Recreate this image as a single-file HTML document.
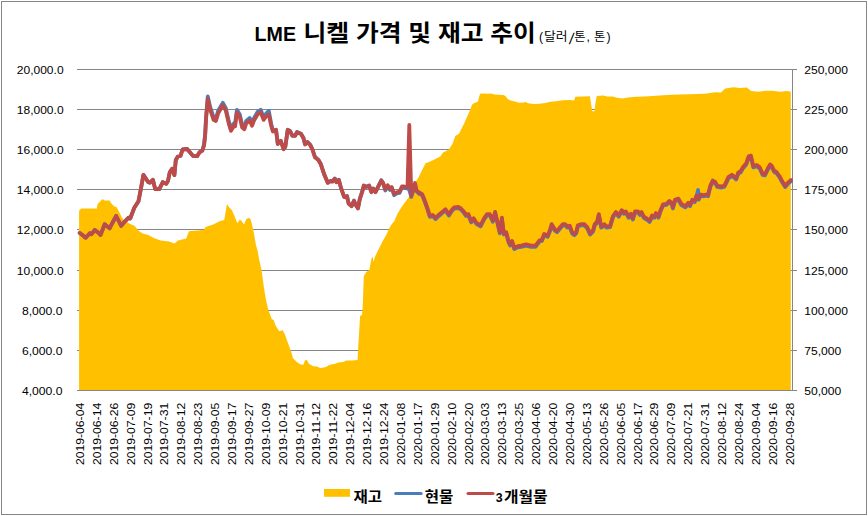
<!DOCTYPE html>
<html lang="ko"><head><meta charset="utf-8"><title>LME 니켈 가격 및 재고 추이</title>
<style>
html,body{margin:0;padding:0;background:#fff;}
body{width:868px;height:516px;overflow:hidden;font-family:"Liberation Sans",sans-serif;}
svg{display:block;}
svg text{font-family:"Liberation Sans",sans-serif;fill:#000;}
svg text.ko{font-family:"Liberation Sans","Noto Sans CJK KR","NanumGothic",sans-serif;}
.ax{font-size:10.9px;}
.xl{font-size:10.5px;}
</style></head><body>
<svg width="868" height="516" viewBox="0 0 868 516">
<rect x="0" y="0" width="868" height="516" fill="#fff"/>
<rect x="1.5" y="1.5" width="865" height="513" fill="#fff" stroke="#868686" stroke-width="1"/>
<g stroke="#868686" stroke-width="1" fill="none" shape-rendering="crispEdges">
<line x1="77.0" y1="69.5" x2="792.5" y2="69.5"/>
<line x1="77.0" y1="109.5" x2="792.5" y2="109.5"/>
<line x1="77.0" y1="149.5" x2="792.5" y2="149.5"/>
<line x1="77.0" y1="189.5" x2="792.5" y2="189.5"/>
<line x1="77.0" y1="229.5" x2="792.5" y2="229.5"/>
<line x1="77.0" y1="270.5" x2="792.5" y2="270.5"/>
<line x1="77.0" y1="310.5" x2="792.5" y2="310.5"/>
<line x1="77.0" y1="350.5" x2="792.5" y2="350.5"/>
<line x1="77.0" y1="390.5" x2="792.5" y2="390.5"/>
</g>
<path d="M79.1,390.5 L79.1,210.7 L81.2,208.4 L95.7,208.4 L96.5,209.0 L97.8,203.8 L102.6,199.0 L104.7,200.4 L109.6,200.4 L111.6,203.8 L114.4,206.6 L116.5,206.9 L119.2,212.1 L122.0,217.7 L124.8,221.1 L130.3,223.9 L134.4,225.7 L138.6,230.8 L142.7,233.6 L148.3,234.9 L153.8,238.1 L160.7,240.5 L169.0,241.4 L174.5,243.6 L178.0,240.5 L182.0,239.6 L186.2,238.4 L189.0,231.2 L203.5,230.1 L205.6,227.1 L213.2,224.6 L220.1,221.1 L224.2,220.1 L225.6,212.1 L227.0,204.1 L229.1,207.3 L231.8,210.0 L234.6,216.3 L237.4,223.2 L239.7,219.7 L241.5,220.7 L243.9,224.6 L246.4,219.0 L249.1,217.7 L250.8,219.7 L253.3,230.1 L256.0,245.3 L257.4,250.0 L259.5,261.0 L261.6,270.5 L263.7,286.0 L265.7,298.4 L267.8,308.0 L268.8,311.2 L271.6,318.8 L273.7,320.2 L275.7,325.7 L279.2,331.3 L282.7,330.3 L284.7,334.0 L288.2,343.7 L291.2,352.0 L293.0,358.2 L296.5,361.7 L300.6,364.5 L303.4,364.7 L305.0,360.3 L306.8,360.0 L308.9,363.8 L313.1,366.2 L317.2,366.5 L320.0,367.9 L324.1,367.5 L326.9,366.5 L329.7,364.7 L335.2,363.8 L338.0,362.4 L343.5,362.0 L346.2,360.6 L351.8,360.6 L357.6,360.0 L358.0,350.6 L358.7,339.6 L360.1,316.0 L362.1,314.7 L362.8,304.5 L363.8,276.0 L366.3,272.0 L369.3,270.0 L371.4,258.7 L372.8,256.7 L373.4,261.8 L375.4,255.7 L379.5,247.5 L382.5,241.4 L386.6,234.3 L389.7,227.2 L391.7,224.2 L394.4,221.0 L397.3,213.9 L401.0,208.1 L403.9,203.8 L408.2,197.9 L411.9,192.1 L414.1,184.9 L416.2,181.2 L419.1,176.2 L422.0,170.3 L425.7,163.1 L428.6,162.3 L434.4,159.4 L440.2,156.5 L443.1,152.5 L448.8,149.4 L452.4,143.9 L455.3,135.9 L459.0,133.8 L464.1,123.6 L469.9,110.5 L472.0,104.7 L474.2,103.0 L477.9,101.8 L480.0,93.8 L482.9,93.4 L487.3,93.8 L490.9,93.4 L494.6,94.5 L498.9,94.8 L503.3,95.0 L505.5,96.0 L507.6,98.9 L510.5,100.6 L514.9,101.5 L519.3,102.8 L523.6,102.5 L525.8,102.1 L528.0,103.2 L533.8,104.0 L539.6,103.7 L545.4,103.0 L549.1,102.0 L556.1,101.3 L563.0,100.3 L569.9,99.9 L574.0,100.6 L575.4,96.8 L589.9,96.2 L590.9,102.7 L592.3,111.2 L594.5,111.2 L595.5,102.7 L596.8,96.0 L603.1,95.5 L607.2,96.4 L612.7,96.4 L616.9,97.8 L622.4,98.5 L628.0,97.5 L636.2,96.8 L644.5,96.4 L652.8,96.0 L659.8,95.5 L671.7,94.7 L688.4,94.2 L705.1,93.7 L715.1,92.2 L721.0,92.6 L725.2,88.4 L733.5,87.2 L740.2,88.0 L746.9,87.5 L751.1,90.9 L758.6,91.7 L765.3,90.7 L771.9,90.7 L780.3,91.7 L787.0,90.9 L790.8,91.7 L790.8,390.5 Z" fill="#FFC000" stroke="none"/>
<g stroke="#868686" stroke-width="1" fill="none" shape-rendering="crispEdges">
<line x1="77.0" y1="390.5" x2="792.5" y2="390.5"/>
<line x1="792.5" y1="69.0" x2="792.5" y2="391.0"/>
<line x1="792.5" y1="69.5" x2="797.0" y2="69.5"/>
<line x1="792.5" y1="109.5" x2="797.0" y2="109.5"/>
<line x1="792.5" y1="149.5" x2="797.0" y2="149.5"/>
<line x1="792.5" y1="189.5" x2="797.0" y2="189.5"/>
<line x1="792.5" y1="229.5" x2="797.0" y2="229.5"/>
<line x1="792.5" y1="270.5" x2="797.0" y2="270.5"/>
<line x1="792.5" y1="310.5" x2="797.0" y2="310.5"/>
<line x1="792.5" y1="350.5" x2="797.0" y2="350.5"/>
<line x1="792.5" y1="390.5" x2="797.0" y2="390.5"/>
</g>
<polyline points="79.7,233.0 82.4,235.0 85.7,237.8 89.8,233.3 91.5,234.2 94.8,230.0 98.1,232.5 100.5,235.0 104.7,224.3 109.6,228.4 112.1,223.5 116.2,216.0 121.2,225.9 124.5,221.8 128.6,217.7 130.2,218.5 134.3,207.8 138.5,201.2 140.9,188.8 143.4,174.8 148.3,182.2 150.0,182.7 152.9,179.8 155.2,189.1 159.3,189.1 162.8,182.1 166.3,183.8 168.0,180.9 169.8,172.2 172.1,168.7 174.4,175.1 175.8,160.0 177.9,156.5 180.5,155.9 182.6,149.5 187.2,149.0 190.1,152.4 193.0,155.9 197.1,156.2 199.4,152.4 202.3,150.7 204.1,144.0 205.2,133.5 206.0,117.4 207.8,96.5 210.1,106.9 213.6,117.4 215.9,118.5 218.3,110.4 222.9,102.8 225.8,108.1 228.7,120.9 231.0,128.4 234.0,123.2 235.1,123.8 236.9,109.8 239.8,114.5 242.1,124.9 244.4,126.7 246.2,120.9 249.7,118.0 252.0,123.2 254.3,117.4 257.8,111.6 260.7,109.8 263.6,117.4 265.9,113.9 268.8,110.9 271.2,123.9 272.9,130.7 276.0,129.7 277.8,143.7 280.7,140.7 283.6,148.9 285.3,146.6 287.7,129.7 290.0,130.9 292.3,135.5 295.2,135.5 297.0,132.0 301.0,133.8 303.4,137.8 305.1,144.2 307.4,141.9 310.3,144.8 312.7,150.0 315.0,157.0 318.5,159.9 320.8,164.0 324.3,174.5 327.8,182.6 330.7,180.9 332.4,181.4 334.8,178.5 336.5,182.0 338.8,179.7 341.2,188.4 344.1,196.6 345.8,197.1 347.0,196.0 348.7,203.5 351.6,205.9 354.0,200.6 355.7,204.7 358.0,208.2 359.8,198.9 362.1,191.9 363.8,185.5 366.2,186.7 369.1,185.5 371.4,191.9 373.1,188.4 375.5,191.9 378.4,186.1 381.3,180.3 383.0,182.6 385.3,190.5 387.7,186.4 390.0,189.9 391.7,188.2 394.1,195.2 396.6,193.5 399.5,192.9 401.9,187.7 404.2,187.7 406.5,188.3 407.5,188.2 409.3,190.0 411.3,197.0 413.5,189.5 415.0,184.2 416.4,191.2 418.7,193.5 422.2,195.3 424.5,201.1 427.4,209.2 429.8,216.8 432.7,216.2 435.6,219.1 438.5,216.2 442.0,213.3 445.5,210.4 449.0,215.6 451.9,211.0 454.2,208.6 458.3,208.2 461.0,209.7 463.1,211.9 466.0,216.0 468.4,215.4 471.3,222.4 473.6,219.5 476.5,224.1 480.6,226.4 484.1,219.5 487.0,215.4 489.9,215.4 492.8,221.8 495.1,213.1 497.4,222.9 499.8,233.4 501.9,218.9 503.8,234.6 506.2,233.4 508.5,242.1 510.2,245.6 512.0,242.1 514.3,249.1 517.8,247.4 521.3,246.8 525.9,245.6 530.8,246.8 535.5,246.8 539.5,241.5 541.9,241.0 544.2,235.2 547.7,236.9 550.0,231.1 551.7,225.3 554.7,230.5 557.0,232.2 559.9,228.8 562.8,225.3 565.1,225.3 567.4,227.6 569.8,227.0 572.1,233.4 574.4,235.2 576.2,233.4 577.9,226.4 581.4,225.3 584.3,225.3 587.2,228.2 590.1,234.6 593.0,231.7 594.8,225.3 597.1,222.9 598.8,215.4 601.2,227.6 604.3,225.4 606.6,227.7 610.1,227.1 613.0,217.2 615.9,213.2 618.8,216.7 621.7,211.4 624.1,213.8 625.8,212.6 628.7,217.8 631.0,214.9 632.8,219.6 635.1,212.6 638.0,212.6 639.8,214.9 641.5,213.2 643.8,217.8 646.7,219.6 649.7,221.9 652.0,216.7 654.3,217.8 656.0,214.3 658.4,217.8 660.7,210.9 663.0,205.6 666.5,205.0 669.4,202.1 671.7,203.9 672.9,208.5 675.0,201.0 678.4,199.8 681.3,205.0 685.3,207.4 688.3,203.9 690.0,206.2 692.3,201.0 694.7,202.1 696.4,196.9 698.1,190.0 698.7,199.8 700.5,195.7 703.4,196.3 706.3,195.7 708.0,196.3 710.3,187.0 712.7,181.8 715.0,182.9 717.3,187.0 720.8,187.6 724.3,187.0 726.6,182.4 728.4,178.3 731.9,176.0 734.2,177.7 736.2,179.5 738.3,173.6 740.6,172.5 742.9,168.4 746.3,164.5 748.6,157.5 750.9,156.9 753.3,167.4 756.7,166.2 759.7,168.5 762.6,174.9 764.9,175.5 767.8,169.7 770.1,165.6 771.9,167.4 774.2,172.0 776.5,173.2 779.4,177.2 782.3,182.5 785.2,187.1 788.1,183.6 791.0,181.3" fill="none" stroke="#4A7EBB" stroke-width="3.8" stroke-linejoin="round" stroke-linecap="round"/>
<polyline points="79.7,233.0 82.4,235.0 85.7,237.8 89.8,233.3 91.5,234.2 94.8,230.0 98.1,232.5 100.5,235.0 104.7,224.3 109.6,228.4 112.1,223.5 116.2,216.0 121.2,225.9 124.5,221.8 128.6,217.7 130.2,218.5 134.3,207.8 138.5,201.2 140.9,188.8 143.4,174.8 148.3,182.2 150.0,182.7 152.9,179.8 155.2,189.1 159.3,189.1 162.8,182.1 166.3,183.8 168.0,180.9 169.8,172.2 172.1,168.7 174.4,175.1 175.8,160.0 177.9,156.5 180.5,155.9 182.6,149.5 187.2,149.0 190.1,152.4 193.0,155.9 197.1,156.2 199.4,152.4 202.3,150.7 204.1,145.5 205.2,135.0 206.0,119.9 207.8,99.0 210.1,109.4 213.6,119.9 215.9,121.0 218.3,112.9 222.9,105.3 225.8,110.6 228.7,123.4 231.0,130.9 234.0,125.7 235.1,126.3 236.9,112.3 239.8,117.0 242.1,127.4 244.4,129.2 246.2,123.4 249.7,120.5 252.0,125.7 254.3,119.9 257.8,114.1 260.7,112.3 263.6,119.9 265.9,116.4 268.8,114.7 271.2,125.7 272.9,131.5 276.0,130.0 277.8,144.0 280.7,141.0 283.6,149.2 285.3,146.9 287.7,130.0 290.0,131.2 292.3,135.8 295.2,135.8 297.0,132.3 301.0,134.1 303.4,138.1 305.1,144.5 307.4,142.2 310.3,145.1 312.7,150.3 315.0,157.3 318.5,160.2 320.8,164.3 324.3,174.8 327.8,182.9 330.7,181.2 332.4,181.7 334.8,178.8 336.5,182.3 338.8,180.0 341.2,188.7 344.1,196.9 345.8,197.4 347.0,196.3 348.7,203.8 351.6,206.2 354.0,200.9 355.7,205.0 358.0,208.5 359.8,199.2 362.1,192.2 363.8,185.8 366.2,187.0 369.1,185.8 371.4,192.2 373.1,188.7 375.5,192.2 378.4,186.4 381.3,180.6 383.0,182.9 385.3,189.3 387.7,185.2 390.0,188.7 391.7,187.0 394.1,194.0 396.6,192.3 399.5,191.7 401.9,186.5 404.2,186.5 406.5,187.1 407.5,187.0 409.3,125.0 411.3,195.8 413.5,188.3 415.0,183.0 416.4,190.0 418.7,192.3 422.2,194.1 424.5,199.9 427.4,208.0 429.8,215.6 432.7,215.0 435.6,217.9 438.5,215.0 442.0,212.1 445.5,209.2 449.0,214.4 451.9,209.8 454.2,207.4 458.3,207.0 461.0,208.5 463.1,210.7 466.0,214.8 468.4,214.2 471.3,221.2 473.6,218.3 476.5,222.9 480.6,225.2 484.1,218.3 487.0,214.2 489.9,214.2 492.8,220.6 495.1,211.9 497.4,221.7 499.8,232.2 501.9,217.7 503.8,233.4 506.2,232.2 508.5,240.9 510.2,244.4 512.0,240.9 514.3,247.9 517.8,246.2 521.3,245.6 525.9,244.4 530.8,245.6 535.5,245.6 539.5,240.3 541.9,239.8 544.2,234.0 547.7,235.7 550.0,229.9 551.7,224.1 554.7,229.3 557.0,231.0 559.9,227.6 562.8,224.1 565.1,224.1 567.4,226.4 569.8,225.8 572.1,232.2 574.4,234.0 576.2,232.2 577.9,225.2 581.4,224.1 584.3,224.1 587.2,227.0 590.1,233.4 593.0,230.5 594.8,224.1 597.1,221.7 598.8,214.2 601.2,226.4 604.3,224.2 606.6,226.5 610.1,225.9 613.0,216.0 615.9,212.0 618.8,215.5 621.7,210.2 624.1,212.6 625.8,211.4 628.7,216.6 631.0,213.7 632.8,218.4 635.1,211.4 638.0,211.4 639.8,213.7 641.5,212.0 643.8,216.6 646.7,218.4 649.7,220.7 652.0,215.5 654.3,216.6 656.0,213.1 658.4,216.6 660.7,209.7 663.0,204.4 666.5,203.8 669.4,200.9 671.7,202.7 672.9,207.3 675.0,199.8 678.4,198.6 681.3,203.8 685.3,206.2 688.3,202.7 690.0,205.0 692.3,199.8 694.7,200.9 696.4,195.7 698.7,198.6 700.5,194.5 703.4,195.1 706.3,194.5 708.0,195.1 710.3,185.8 712.7,180.6 715.0,181.7 717.3,185.8 720.8,186.4 724.3,185.8 726.6,181.2 728.4,177.1 731.9,174.8 734.2,176.5 736.2,178.3 738.3,172.4 740.6,171.3 742.9,167.2 746.3,163.3 748.6,156.3 750.9,155.7 753.3,166.2 756.7,165.0 759.7,167.3 762.6,173.7 764.9,174.3 767.8,168.5 770.1,164.4 771.9,166.2 774.2,170.8 776.5,172.0 779.4,176.0 782.3,181.3 785.2,185.9 788.1,182.4 791.0,180.1" fill="none" stroke="#BE4B48" stroke-width="3.8" stroke-linejoin="round" stroke-linecap="round"/>
<g class="ax" text-anchor="end">
<text x="63.6" y="73.8" textLength="46.8" lengthAdjust="spacingAndGlyphs">20,000.0</text>
<text x="63.6" y="113.8" textLength="46.8" lengthAdjust="spacingAndGlyphs">18,000.0</text>
<text x="63.6" y="153.8" textLength="46.8" lengthAdjust="spacingAndGlyphs">16,000.0</text>
<text x="63.6" y="193.8" textLength="46.8" lengthAdjust="spacingAndGlyphs">14,000.0</text>
<text x="63.6" y="233.8" textLength="46.8" lengthAdjust="spacingAndGlyphs">12,000.0</text>
<text x="63.6" y="274.8" textLength="46.8" lengthAdjust="spacingAndGlyphs">10,000.0</text>
<text x="62.5" y="314.8" textLength="40.6" lengthAdjust="spacingAndGlyphs">8,000.0</text>
<text x="62.5" y="354.8" textLength="40.6" lengthAdjust="spacingAndGlyphs">6,000.0</text>
<text x="62.5" y="394.8" textLength="40.6" lengthAdjust="spacingAndGlyphs">4,000.0</text>
</g>
<g class="ax" text-anchor="start">
<text x="804.2" y="73.8" textLength="43.7" lengthAdjust="spacingAndGlyphs">250,000</text>
<text x="804.2" y="113.8" textLength="43.7" lengthAdjust="spacingAndGlyphs">225,000</text>
<text x="804.2" y="153.8" textLength="43.7" lengthAdjust="spacingAndGlyphs">200,000</text>
<text x="804.2" y="193.8" textLength="43.7" lengthAdjust="spacingAndGlyphs">175,000</text>
<text x="804.2" y="233.8" textLength="43.7" lengthAdjust="spacingAndGlyphs">150,000</text>
<text x="804.2" y="274.8" textLength="43.7" lengthAdjust="spacingAndGlyphs">125,000</text>
<text x="804.2" y="314.8" textLength="43.7" lengthAdjust="spacingAndGlyphs">100,000</text>
<text x="804.2" y="354.8" textLength="37.0" lengthAdjust="spacingAndGlyphs">75,000</text>
<text x="804.2" y="394.8" textLength="37.0" lengthAdjust="spacingAndGlyphs">50,000</text>
</g>
<g class="xl" text-anchor="end">
<text transform="translate(83.90,402.8) rotate(-90)" textLength="62.3" lengthAdjust="spacingAndGlyphs">2019-06-04</text>
<text transform="translate(100.80,402.8) rotate(-90)" textLength="62.3" lengthAdjust="spacingAndGlyphs">2019-06-14</text>
<text transform="translate(117.70,402.8) rotate(-90)" textLength="62.3" lengthAdjust="spacingAndGlyphs">2019-06-26</text>
<text transform="translate(134.60,402.8) rotate(-90)" textLength="62.3" lengthAdjust="spacingAndGlyphs">2019-07-09</text>
<text transform="translate(151.50,402.8) rotate(-90)" textLength="62.3" lengthAdjust="spacingAndGlyphs">2019-07-19</text>
<text transform="translate(168.39,402.8) rotate(-90)" textLength="62.3" lengthAdjust="spacingAndGlyphs">2019-07-31</text>
<text transform="translate(185.29,402.8) rotate(-90)" textLength="62.3" lengthAdjust="spacingAndGlyphs">2019-08-12</text>
<text transform="translate(202.19,402.8) rotate(-90)" textLength="62.3" lengthAdjust="spacingAndGlyphs">2019-08-23</text>
<text transform="translate(219.09,402.8) rotate(-90)" textLength="62.3" lengthAdjust="spacingAndGlyphs">2019-09-05</text>
<text transform="translate(235.99,402.8) rotate(-90)" textLength="62.3" lengthAdjust="spacingAndGlyphs">2019-09-17</text>
<text transform="translate(252.89,402.8) rotate(-90)" textLength="62.3" lengthAdjust="spacingAndGlyphs">2019-09-27</text>
<text transform="translate(269.79,402.8) rotate(-90)" textLength="62.3" lengthAdjust="spacingAndGlyphs">2019-10-09</text>
<text transform="translate(286.69,402.8) rotate(-90)" textLength="62.3" lengthAdjust="spacingAndGlyphs">2019-10-21</text>
<text transform="translate(303.58,402.8) rotate(-90)" textLength="62.3" lengthAdjust="spacingAndGlyphs">2019-10-31</text>
<text transform="translate(320.48,402.8) rotate(-90)" textLength="62.3" lengthAdjust="spacingAndGlyphs">2019-11-12</text>
<text transform="translate(337.38,402.8) rotate(-90)" textLength="62.3" lengthAdjust="spacingAndGlyphs">2019-11-22</text>
<text transform="translate(354.28,402.8) rotate(-90)" textLength="62.3" lengthAdjust="spacingAndGlyphs">2019-12-04</text>
<text transform="translate(371.18,402.8) rotate(-90)" textLength="62.3" lengthAdjust="spacingAndGlyphs">2019-12-16</text>
<text transform="translate(388.08,402.8) rotate(-90)" textLength="62.3" lengthAdjust="spacingAndGlyphs">2019-12-24</text>
<text transform="translate(404.98,402.8) rotate(-90)" textLength="62.3" lengthAdjust="spacingAndGlyphs">2020-01-08</text>
<text transform="translate(421.88,402.8) rotate(-90)" textLength="62.3" lengthAdjust="spacingAndGlyphs">2020-01-17</text>
<text transform="translate(438.78,402.8) rotate(-90)" textLength="62.3" lengthAdjust="spacingAndGlyphs">2020-01-29</text>
<text transform="translate(455.67,402.8) rotate(-90)" textLength="62.3" lengthAdjust="spacingAndGlyphs">2020-02-10</text>
<text transform="translate(472.57,402.8) rotate(-90)" textLength="62.3" lengthAdjust="spacingAndGlyphs">2020-02-20</text>
<text transform="translate(489.47,402.8) rotate(-90)" textLength="62.3" lengthAdjust="spacingAndGlyphs">2020-03-03</text>
<text transform="translate(506.37,402.8) rotate(-90)" textLength="62.3" lengthAdjust="spacingAndGlyphs">2020-03-13</text>
<text transform="translate(523.27,402.8) rotate(-90)" textLength="62.3" lengthAdjust="spacingAndGlyphs">2020-03-25</text>
<text transform="translate(540.17,402.8) rotate(-90)" textLength="62.3" lengthAdjust="spacingAndGlyphs">2020-04-06</text>
<text transform="translate(557.07,402.8) rotate(-90)" textLength="62.3" lengthAdjust="spacingAndGlyphs">2020-04-20</text>
<text transform="translate(573.97,402.8) rotate(-90)" textLength="62.3" lengthAdjust="spacingAndGlyphs">2020-04-30</text>
<text transform="translate(590.86,402.8) rotate(-90)" textLength="62.3" lengthAdjust="spacingAndGlyphs">2020-05-13</text>
<text transform="translate(607.76,402.8) rotate(-90)" textLength="62.3" lengthAdjust="spacingAndGlyphs">2020-05-26</text>
<text transform="translate(624.66,402.8) rotate(-90)" textLength="62.3" lengthAdjust="spacingAndGlyphs">2020-06-05</text>
<text transform="translate(641.56,402.8) rotate(-90)" textLength="62.3" lengthAdjust="spacingAndGlyphs">2020-06-17</text>
<text transform="translate(658.46,402.8) rotate(-90)" textLength="62.3" lengthAdjust="spacingAndGlyphs">2020-06-29</text>
<text transform="translate(675.36,402.8) rotate(-90)" textLength="62.3" lengthAdjust="spacingAndGlyphs">2020-07-09</text>
<text transform="translate(692.26,402.8) rotate(-90)" textLength="62.3" lengthAdjust="spacingAndGlyphs">2020-07-21</text>
<text transform="translate(709.16,402.8) rotate(-90)" textLength="62.3" lengthAdjust="spacingAndGlyphs">2020-07-31</text>
<text transform="translate(726.05,402.8) rotate(-90)" textLength="62.3" lengthAdjust="spacingAndGlyphs">2020-08-12</text>
<text transform="translate(742.95,402.8) rotate(-90)" textLength="62.3" lengthAdjust="spacingAndGlyphs">2020-08-24</text>
<text transform="translate(759.85,402.8) rotate(-90)" textLength="62.3" lengthAdjust="spacingAndGlyphs">2020-09-04</text>
<text transform="translate(776.75,402.8) rotate(-90)" textLength="62.3" lengthAdjust="spacingAndGlyphs">2020-09-16</text>
<text transform="translate(793.65,402.8) rotate(-90)" textLength="62.3" lengthAdjust="spacingAndGlyphs">2020-09-28</text>
</g>
<text x="254.6" y="41.4" font-size="19.6px" font-weight="bold" textLength="41.4" lengthAdjust="spacingAndGlyphs">LME</text>
<text class="ko" x="303.5" y="41.4" font-size="23px" font-weight="bold" textLength="232.3" lengthAdjust="spacingAndGlyphs">니켈 가격 및 재고 추이</text>
<g font-size="12.3px">
<text class="ko" x="544" y="41.3" textLength="23.6" lengthAdjust="spacingAndGlyphs">달러</text>
<text class="ko" x="574.2" y="41.3">톤</text>
<text class="ko" x="593.9" y="41.3">톤</text>
</g>
<g font-size="12.3px">
<text x="538.9" y="41.2">(</text>
<text transform="translate(568.7,43.5) skewX(-8)" font-size="15.4px">/</text>
<text x="586.6" y="41.4">,</text>
<text x="606.6" y="41.2">)</text>
</g>
<rect x="324" y="489" width="26" height="7.8" fill="#FFC000"/>
<line x1="395.7" y1="493.4" x2="421.1" y2="493.4" stroke="#4A7EBB" stroke-width="3" stroke-linecap="round"/>
<line x1="468" y1="493.4" x2="493" y2="493.4" stroke="#BE4B48" stroke-width="3" stroke-linecap="round"/>
<g font-size="14.5px" font-weight="bold">
<text class="ko" x="353.5" y="501.5" textLength="28.6" lengthAdjust="spacingAndGlyphs">재고</text>
<text class="ko" x="424.8" y="501.5" textLength="28.6" lengthAdjust="spacingAndGlyphs">현물</text>
<text class="ko" x="504" y="501.5" textLength="43.7" lengthAdjust="spacingAndGlyphs">개월물</text>
</g>
<text x="495.7" y="501.6" font-size="12.4px" font-weight="bold">3</text>
</svg>
</body></html>
